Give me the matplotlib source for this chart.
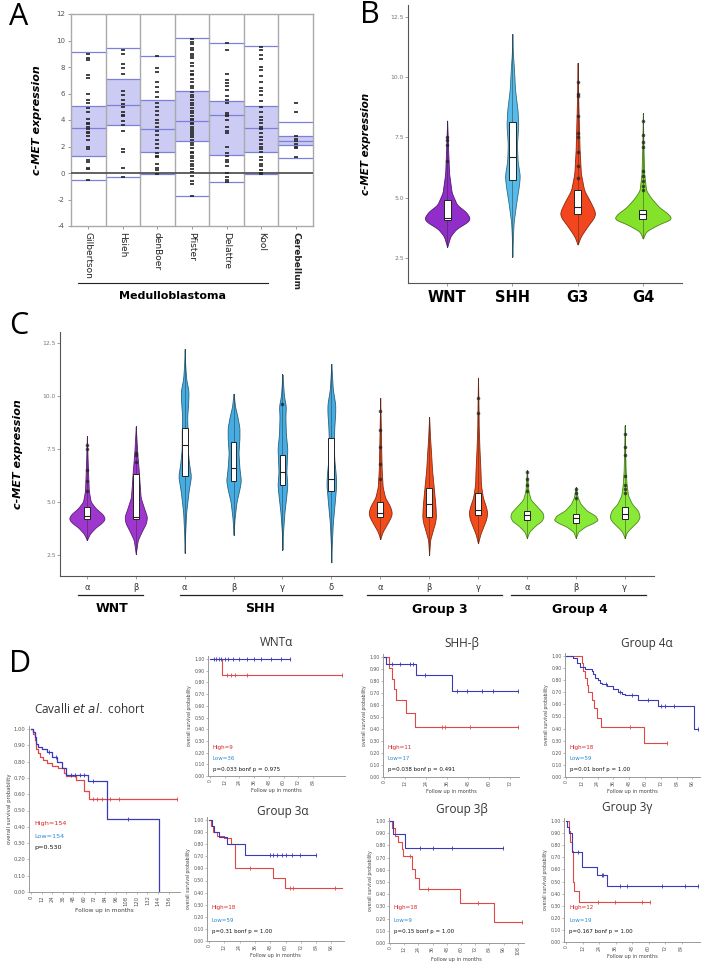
import numpy as np
import matplotlib
matplotlib.use('Agg')
import matplotlib.pyplot as plt
from matplotlib.lines import Line2D

# ---------------- DATA ----------------
# Panel A
a_cols = ['Gilbertson', 'Hsieh', 'denBoer', 'Pfister', 'Delattre', 'Kool', 'Cerebellum']
a_upper = [9.1, 9.4, 8.8, 10.2, 9.8, 9.6, 3.85]
a_q3 = [5.05, 7.1, 5.5, 6.2, 5.4, 5.05, 2.8]
a_med = [3.4, 5.1, 3.3, 3.9, 4.35, 3.4, 2.4]
a_q1 = [1.25, 3.65, 1.55, 2.45, 1.35, 1.6, 2.15]
a_lower = [-0.5, -0.3, -0.1, -1.75, -0.7, -0.1, 1.15]
a_pts_gil = [9.0, 8.7, 8.5, 7.4, 7.2, 6.0, 5.5, 5.3, 4.9, 4.6, 4.1, 3.8, 3.7, 3.5, 3.3, 3.1,
             3.0, 2.8, 2.5, 2.0, 1.8, 1.0, 0.8, 0.4, 0.3, -0.5]
a_pts_hsi = [9.3, 9.0, 8.2, 7.9, 7.5, 6.2, 5.9, 5.5, 5.2, 5.0, 4.6, 4.4, 4.3, 3.9, 3.6, 3.2,
             1.8, 1.6, 0.4, -0.3]
a_pts_den = [8.8, 7.9, 7.6, 6.9, 6.5, 6.1, 5.7, 5.3, 5.0, 4.7, 4.4, 4.0, 3.8, 3.5, 3.2, 2.9,
             2.5, 2.2, 1.9, 1.5, 1.3, 1.2, 0.7, 0.4, 0.2, -0.1]
a_pts_pfi = [10.1, 9.9, 9.7, 9.4, 9.3, 9.0, 8.8, 8.7, 8.3, 8.1, 7.7, 7.5, 7.4, 7.1, 6.9, 6.6,
             6.4, 6.1, 5.9, 5.7, 5.5, 5.3, 5.1, 4.9, 4.7, 4.5, 4.3, 4.1, 4.0, 3.8, 3.7, 3.5,
             3.3, 3.2, 3.0, 2.9, 2.7, 2.5, 2.3, 2.1, 1.9, 1.6, 1.5, 1.3, 1.1, 0.9, 0.7, 0.5,
             0.3, 0.1, -0.2, -0.6, -0.8, -1.75]
a_pts_del = [9.8, 9.3, 7.5, 7.0, 6.8, 6.6, 6.3, 5.8, 5.5, 5.3, 4.5, 4.4, 4.3, 4.0, 3.5, 3.2,
             3.0, 2.0, 1.5, 1.3, 1.0, 0.8, 0.5, 0.0, -0.3, -0.5, -0.7]
a_pts_koo = [9.5, 9.3, 8.9, 8.6, 8.0, 7.8, 7.3, 6.9, 6.4, 6.2, 5.9, 5.4, 5.0, 4.6, 4.2, 4.0,
             3.8, 3.5, 3.3, 3.0, 2.7, 2.5, 2.2, 2.0, 1.8, 1.6, 1.2, 1.0, 0.7, 0.5, 0.2, 0.0, -0.1]
a_pts_cer = [5.3, 4.6, 2.8, 2.6, 2.4, 2.2, 2.0, 1.9, 1.2]
a_pts = [a_pts_gil, a_pts_hsi, a_pts_den, a_pts_pfi, a_pts_del, a_pts_koo, a_pts_cer]
a_yticks = [-4, -2, 0, 2, 4, 6, 8, 10, 12]

# Panel B
b_groups = ['WNT', 'SHH', 'G3', 'G4']
b_colors = ['#8b22c6', '#4db8e8', '#f23c12', '#7fe11f']
b_prof_y = [
    [2.95, 3.4, 3.7, 4.0, 4.15, 4.4, 4.7, 5.2, 6.0, 7.0, 8.2],
    [2.55, 3.5, 4.0, 4.8, 5.5, 5.9, 6.5, 7.2, 8.0, 8.6, 9.5, 10.3, 11.0, 11.8],
    [3.05, 3.4, 3.8, 4.2, 4.4, 4.8, 5.3, 6.0, 7.0, 8.0, 9.0, 10.6],
    [3.3, 3.6, 3.9, 4.1, 4.3, 4.6, 5.0, 5.3, 6.0, 7.0, 8.5],
]
b_prof_w = [
    [0, 0.05, 0.14, 0.32, 0.35, 0.29, 0.15, 0.07, 0.03, 0.015, 0],
    [0, 0.01, 0.02, 0.06, 0.1, 0.115, 0.08, 0.07, 0.09, 0.08, 0.04, 0.025, 0.008, 0],
    [0, 0.05, 0.15, 0.26, 0.27, 0.2, 0.1, 0.05, 0.03, 0.02, 0.01, 0],
    [0, 0.05, 0.25, 0.44, 0.4, 0.25, 0.12, 0.05, 0.02, 0.01, 0],
]
b_q1 = [4.05, 5.75, 4.3, 4.1]
b_med = [4.15, 6.7, 4.6, 4.3]
b_q3 = [4.9, 8.15, 5.3, 4.5]
b_out = [
    [6.5, 7.2, 7.4, 7.5],
    [],
    [5.8, 6.3, 6.9, 7.5, 7.7, 8.4, 9.2, 9.3, 9.8],
    [5.3, 5.5, 5.7, 5.9, 6.1, 7.1, 7.3, 7.6, 8.2],
]
b_yticks = [2.5, 5.0, 7.5, 10.0, 12.5]

# Panel C
c_labels = ['α', 'β', 'α', 'β', 'γ', 'δ', 'α', 'β', 'γ', 'α', 'β', 'γ']
c_group = [0, 0, 1, 1, 1, 1, 2, 2, 2, 3, 3, 3]
c_group_names = ['WNT', 'SHH', 'Group 3', 'Group 4']
c_colors = ['#9a2ccc', '#3ca8e0', '#f0420f', '#82e82c']
c_prof_y = [
    [3.2, 3.5, 3.8, 4.0, 4.2, 4.4, 4.7, 5.0, 5.5, 6.0, 7.0, 8.1],
    [2.55, 3.2, 3.6, 4.0, 4.3, 4.7, 5.2, 5.8, 6.5, 7.3, 8.55],
    [2.6, 3.5, 4.5, 5.5, 6.2, 6.8, 7.5, 8.3, 9.0, 9.6, 10.2, 10.8, 11.5, 12.2],
    [3.45, 4.2, 5.0, 5.6, 6.0, 6.6, 7.3, 8.0, 8.5, 9.0, 9.5, 10.1],
    [2.75, 3.5, 4.5, 5.3, 5.8, 6.4, 7.0, 7.5, 8.2, 9.0, 9.5, 10.0, 11.0],
    [2.15, 3.0, 4.0, 5.0, 5.8, 6.3, 7.0, 7.8, 8.5, 9.2, 9.6, 10.3, 11.5],
    [3.25, 3.6, 4.0, 4.3, 4.5, 4.8, 5.2, 5.7, 6.5, 7.5, 8.5, 9.9],
    [2.5, 3.2, 3.7, 4.0, 4.3, 4.8, 5.3, 5.8, 6.5, 7.3, 8.0, 9.0],
    [3.05, 3.5, 3.9, 4.2, 4.5, 4.8, 5.2, 5.8, 6.5, 7.5, 8.5, 9.5, 10.85],
    [3.3, 3.6, 3.9, 4.1, 4.3, 4.5, 4.8, 5.1, 5.5, 6.0, 6.5],
    [3.3, 3.6, 3.85, 4.0, 4.15, 4.35, 4.6, 4.9, 5.2, 5.7],
    [3.3, 3.6, 3.9, 4.1, 4.3, 4.6, 4.9, 5.3, 5.8, 6.5, 7.5, 8.6],
]
c_prof_w = [
    [0, 0.06, 0.18, 0.3, 0.37, 0.33, 0.18, 0.08, 0.04, 0.03, 0.015, 0],
    [0, 0.04, 0.12, 0.21, 0.23, 0.17, 0.1, 0.08, 0.06, 0.03, 0],
    [0, 0.01, 0.03, 0.08, 0.13, 0.09, 0.06, 0.06, 0.05, 0.07, 0.08, 0.03, 0.01, 0],
    [0, 0.02, 0.06, 0.12, 0.15, 0.12, 0.1, 0.12, 0.12, 0.08, 0.03, 0],
    [0, 0.01, 0.04, 0.08, 0.1, 0.08, 0.09, 0.1, 0.07, 0.06, 0.07, 0.03, 0],
    [0, 0.01, 0.03, 0.07, 0.1, 0.09, 0.06, 0.05, 0.06, 0.08, 0.08, 0.03, 0],
    [0, 0.05, 0.15, 0.22, 0.24, 0.2, 0.1, 0.05, 0.03, 0.02, 0.012, 0],
    [0, 0.02, 0.08, 0.12, 0.14, 0.13, 0.11, 0.09, 0.06, 0.04, 0.02, 0],
    [0, 0.05, 0.12, 0.17, 0.19, 0.16, 0.1, 0.06, 0.05, 0.03, 0.015, 0.01, 0],
    [0, 0.05, 0.18, 0.3, 0.34, 0.32, 0.2, 0.08, 0.03, 0.015, 0],
    [0, 0.05, 0.2, 0.35, 0.45, 0.4, 0.22, 0.1, 0.04, 0],
    [0, 0.05, 0.18, 0.27, 0.31, 0.27, 0.15, 0.07, 0.04, 0.02, 0.01, 0],
]
c_q1 = [4.2, 4.2, 6.2, 6.0, 5.8, 5.5, 4.3, 4.3, 4.4, 4.15, 4.0, 4.2]
c_med = [4.35, 4.3, 7.7, 6.6, 6.4, 6.1, 4.5, 4.9, 4.6, 4.4, 4.25, 4.45]
c_q3 = [4.75, 6.3, 8.5, 7.8, 7.2, 8.0, 5.0, 5.65, 5.4, 4.57, 4.45, 4.75]
c_out = [
    [5.5, 6.0, 6.5, 7.5, 7.7],
    [6.9, 7.2, 7.3],
    [], [], [9.6], [],
    [6.1, 6.8, 7.6, 8.4, 9.3],
    [],
    [9.2, 9.9],
    [5.5, 5.8, 6.1, 6.4],
    [5.2, 5.4, 5.6],
    [5.4, 5.6, 5.8, 6.2, 7.2, 7.6, 8.2],
]

# Panel D (Kaplan-Meier)
km_titles = ['Cavalli', 'WNTα', 'SHH-β', 'Group 4α', 'Group 3α', 'Group 3β', 'Group 3γ']
km_high_t = [
    [0, 2, 4, 6, 8, 10, 14, 18, 24, 31, 37, 40, 51, 60, 66],
    [0, 10],
    [0, 3.0, 4.4, 5.7, 6.9, 12.6, 17.7],
    [0, 11.9, 13.2, 14.4, 15.7, 17.0, 19.5, 21.0, 23.3, 26.3, 59.2],
    [0, 1.5, 3, 6, 12, 17, 20.4, 50.4, 59.6],
    [0, 1.4, 4.2, 7.0, 9.9, 11.3, 18.3, 21.1, 24.8, 59, 87.9],
    [0, 2.2, 3.0, 4.1, 5.3, 6.0, 9.7],
]
km_high_s = [
    [1.0, 0.97, 0.93, 0.88, 0.85, 0.83, 0.81, 0.79, 0.77, 0.76, 0.73, 0.71, 0.69, 0.62, 0.57],
    [1.0, 0.86],
    [1.0, 0.91, 0.82, 0.73, 0.64, 0.53, 0.42],
    [1.0, 0.94, 0.88, 0.82, 0.76, 0.70, 0.64, 0.57, 0.49, 0.41, 0.28],
    [1.0, 0.95, 0.90, 0.87, 0.85, 0.80, 0.60, 0.52, 0.44],
    [1.0, 0.94, 0.88, 0.83, 0.77, 0.71, 0.61, 0.53, 0.44, 0.33, 0.17],
    [1.0, 0.92, 0.83, 0.75, 0.50, 0.42, 0.33],
]
km_high_end = [165, 108, 76.5, 76.5, 104, 111.5, 61]
km_high_cens = [
    [70, 75, 80, 90, 100, 165],
    [14, 17, 20, 30, 108],
    [33, 35, 49, 76.5],
    [48.5, 76.5],
    [32, 63.5, 66, 99],
    [17, 32, 74, 111.5],
    [23.5, 35.6, 55, 61],
]
km_low_t = [
    [0, 2, 4, 6, 8, 12, 18, 24, 30, 35, 40, 65, 86, 145],
    [0],
    [0, 1.1, 18.1, 39],
    [0, 5.6, 8.1, 10.6, 14.4, 19.5, 20.8, 22.0, 24.6, 25.8, 27.1, 30.9, 36.0, 39.7, 42.3,
     44.8, 55.0, 70.1, 97.2],
    [0, 2, 4, 8, 14, 28],
    [0, 2.8, 12.7],
    [0, 1.0, 2.5, 4.6, 11.9, 22.3, 29.6],
]
km_low_s = [
    [1.0, 0.98, 0.95, 0.91, 0.89, 0.88, 0.86, 0.83, 0.80, 0.76, 0.72, 0.68, 0.45, 0.0],
    [1.0],
    [1.0, 0.94, 0.85, 0.72],
    [1.0, 0.98, 0.94, 0.91, 0.89, 0.88, 0.85, 0.82, 0.80, 0.78, 0.77, 0.75, 0.73, 0.70, 0.69,
     0.68, 0.64, 0.59, 0.40],
    [1.0, 0.95, 0.90, 0.86, 0.80, 0.71],
    [1.0, 0.89, 0.78],
    [1.0, 0.95, 0.90, 0.74, 0.62, 0.55, 0.46],
]
km_low_end = [145, 65, 76.5, 100.5, 84, 95.5, 95.8]
km_low_cens = [
    [20, 28, 45, 50, 55, 60, 70, 110],
    [3, 5, 7, 9, 12, 15, 19, 24, 30, 36, 42, 50, 58, 65],
    [4.4, 9.1, 14.9, 16.5, 23.4, 41.5, 47.6, 56, 62, 76.5],
    [30, 41, 50, 62, 72, 75, 82, 100.5],
    [48, 50, 53, 57, 60, 65, 71, 84],
    [25, 36, 52, 95.5],
    [9, 26, 27, 39, 44, 70, 86.5, 95.8],
]
km_n_high = ['High=154', 'High=9', 'High=11', 'High=18', 'High=18', 'High=18', 'High=12']
km_n_low = ['Low=154', 'Low=36', 'Low=17', 'Low=59', 'Low=59', 'Low=9', 'Low=19']
km_p = ['p=0.530', 'p=0.033 bonf p = 0.975', 'p=0.038 bonf p = 0.491', 'p=0.01 bonf p = 1.00',
        'p=0.31 bonf p = 1.00', 'p=0.15 bonf p = 1.00', 'p=0.167 bonf p = 1.00']
km_xmax_tick = [156, 84, 72, 96, 96, 108, 84]
km_yticks = [0.0, 0.1, 0.2, 0.3, 0.4, 0.5, 0.6, 0.7, 0.8, 0.9, 1.0]

# ---------------- LAYOUT HELPERS ----------------
W, H = 708, 968
fig = plt.figure(figsize=(W / 100, H / 100), dpi=100)
fig.patch.set_facecolor('white')


def rect(l, t, r, b):
    return [l / W, 1 - b / H, (r - l) / W, (b - t) / H]


def fx(x):
    return x / W


def fy(y):
    return 1 - y / H


def ftext(x, y, s, **kw):
    fig.text(fx(x), fy(y), s, **kw)


def fline(x0, x1, y, **kw):
    fig.add_artist(Line2D([fx(x0), fx(x1)], [fy(y), fy(y)], transform=fig.transFigure, **kw))


def darker(c, f=0.6):
    rgb = np.array(matplotlib.colors.to_rgb(c))
    return tuple(rgb * f)


def violin(ax, x, ys, ws, color, q1, med, q3, outs, boxw):
    ys = np.asarray(ys, float)
    ws = np.asarray(ws, float)
    yy = np.linspace(ys[0], ys[-1], 300)
    ww = np.interp(yy, ys, ws)
    k = 11
    pad = np.pad(ww, k // 2, mode='edge')
    ww = np.convolve(pad, np.ones(k) / k, mode='valid')
    ww[0] = 0
    ww[-1] = 0
    ax.plot([x, x], [ys[0], ys[-1]], color='#444444', lw=0.7, zorder=1)
    ax.fill_betweenx(yy, x - ww, x + ww, facecolor=color, edgecolor=darker(color, 0.55),
                     lw=0.6, zorder=2, alpha=0.95)
    ax.plot([x, x], [ys[0], ys[-1]], color='#333333', lw=0.5, alpha=0.6, zorder=3)
    ax.add_patch(plt.Rectangle((x - boxw / 2, q1), boxw, q3 - q1, facecolor='white',
                               edgecolor='#222222', lw=0.7, zorder=4))
    ax.plot([x - boxw / 2, x + boxw / 2], [med, med], color='#222222', lw=0.8, zorder=5)
    if outs:
        ax.plot([x] * len(outs), outs, 'o', ms=2.6, color='#222222', alpha=0.75, zorder=6,
                markeredgewidth=0)


def style_violin_axes(ax, yticks):
    for s in ['top', 'right']:
        ax.spines[s].set_visible(False)
    for s in ['left', 'bottom']:
        ax.spines[s].set_color('#555555')
        ax.spines[s].set_linewidth(0.8)
    ax.set_yticks(yticks)
    ax.set_yticklabels(['%.1f' % v for v in yticks], fontsize=4.3, color='#777777')
    ax.tick_params(axis='y', length=2, width=0.5, color='#777777', pad=1)
    ax.tick_params(axis='x', length=2, width=0.5, color='#777777')


# ---------------- PANEL A ----------------
axA = fig.add_axes(rect(71, 14, 313, 226))
axA.set_xlim(0, 7)
axA.set_ylim(-4, 12)
fillc = '#cbcbf3'
linec = '#7c80da'
for i in range(7):
    axA.fill_between([i, i + 1], a_q1[i], a_q3[i], color=fillc, lw=0, zorder=1)
    for v in (a_upper[i], a_q3[i], a_med[i], a_q1[i], a_lower[i]):
        axA.plot([i, i + 1], [v, v], color=linec, lw=0.9, zorder=2)
    pts = a_pts[i]
    axA.plot([i + 0.5] * len(pts), pts, marker='_', ls='none', ms=2.5, mew=1.2,
             color='#222222', zorder=4)
for i in range(1, 7):
    axA.axvline(i, color='#aaaaaa', lw=1.0, zorder=3)
axA.axhline(0, color='#555555', lw=1.3, zorder=3)
for s in axA.spines.values():
    s.set_color('#aaaaaa')
    s.set_linewidth(1.0)
axA.set_yticks(a_yticks)
axA.set_yticklabels([str(v) for v in a_yticks], fontsize=5, color='#555555')
axA.tick_params(axis='y', length=2.5, width=0.6, color='#888888', pad=2)
axA.set_xticks(np.arange(7) + 0.5)
axA.set_xticklabels(a_cols, rotation=-90, fontsize=6.5, color='#222222')
for lab in axA.get_xticklabels():
    if lab.get_text() == 'Cerebellum':
        lab.set_fontweight('bold')
axA.tick_params(axis='x', length=2.5, width=0.6, color='#888888', pad=2)
axA.set_ylabel('c-MET expression', fontsize=8, fontweight='bold', fontstyle='italic',
               labelpad=10)
fline(78, 268, 283, color='#222222', lw=0.8)
ftext(172, 296, 'Medulloblastoma', ha='center', va='center', fontsize=8, fontweight='bold')
ftext(19, 17, 'A', ha='center', va='center', fontsize=22, family='Open Sans')

# ---------------- PANEL B ----------------
axB = fig.add_axes(rect(408, 5, 682, 283))
axB.set_xlim(-0.6, 3.6)
axB.set_ylim(1.45, 13.0)
for i in range(4):
    violin(axB, i, b_prof_y[i], b_prof_w[i], b_colors[i], b_q1[i], b_med[i], b_q3[i],
           b_out[i], 0.11)
style_violin_axes(axB, b_yticks)
axB.set_xticks(range(4))
axB.set_xticklabels([])
for i, g in enumerate(b_groups):
    ftext(447 + i * 65.3, 298, g, ha='center', va='center', fontsize=10.5, fontweight='bold')
axB.set_ylabel('c-MET expression', fontsize=7.5, fontweight='bold', fontstyle='italic',
               labelpad=14)
ftext(360, 15, 'B', ha='left', va='center', fontsize=22, family='Open Sans')

# ---------------- PANEL C ----------------
axC = fig.add_axes(rect(60, 332, 654, 576))
axC.set_xlim(-0.55, 11.6)
axC.set_ylim(1.51, 13.0)
for i in range(12):
    violin(axC, i, c_prof_y[i], c_prof_w[i], c_colors[c_group[i]], c_q1[i], c_med[i], c_q3[i],
           c_out[i], 0.12)
style_violin_axes(axC, b_yticks)
axC.set_xticks(range(12))
axC.set_xticklabels(c_labels, fontsize=6, color='#333333')
axC.tick_params(axis='x', pad=3)
axC.set_ylabel('c-MET expression', fontsize=8, fontweight='bold', fontstyle='italic',
               labelpad=14)
c_line_px = [(78, 143), (180, 342), (367, 502), (511, 646)]
c_name_px = [112, 260, 440, 580]
for (x0, x1), xc, name in zip(c_line_px, c_name_px, c_group_names):
    fline(x0, x1, 595, color='#222222', lw=0.9)
    ftext(xc, 609, name, ha='center', va='center', fontsize=9, fontweight='bold')
ftext(19, 326, 'C', ha='center', va='center', fontsize=22, family='Open Sans')

# ---------------- PANEL D ----------------
ftext(20, 664, 'D', ha='center', va='center', fontsize=22, family='Open Sans')

# axes geometry: (spine_left, px of t=0, px per month, y of 1.00, y of 0.00, right px)
km_geo = [
    (29, 31, 0.882, 729, 892, 180),
    (208, 210, 1.225, 659, 776, 345),
    (383, 384, 1.75, 657, 777, 519),
    (565, 566, 1.317, 656, 777, 700),
    (207, 209, 1.275, 820, 941, 344),
    (389, 390, 1.183, 821, 943, 524),
    (564, 566, 1.375, 821, 942, 700),
]
km_title_pos = [(90, 709), (276, 643), (462, 643), (647, 643), (283, 812), (462, 810), (627, 808)]
red = '#e04848'
blue = '#3a3ab8'

for k in range(7):
    sl, x0, ppm, y1, y0, rx = km_geo[k]
    ax = fig.add_axes(rect(sl, y1 - 3, rx, y0))
    ax.set_xlim((sl - x0) / ppm, (rx - x0) / ppm)
    ax.set_ylim(0, 1 + 3 / (y0 - y1))
    for s in ['top', 'right']:
        ax.spines[s].set_visible(False)
    for s in ['left', 'bottom']:
        ax.spines[s].set_color('#999999')
        ax.spines[s].set_linewidth(0.7)
    fs = 3.3 if k > 0 else 3.8
    ax.set_yticks(km_yticks)
    ax.set_yticklabels(['%.2f' % v for v in km_yticks], fontsize=fs, color='#555555')
    xt = list(range(0, km_xmax_tick[k] + 1, 12))
    ax.set_xticks(xt)
    ax.set_xticklabels([str(v) for v in xt], rotation=90, fontsize=fs, color='#555555')
    ax.tick_params(length=1.5, width=0.4, color='#888888', pad=1)

    for tt, ss, end, cens, col in [
        (km_high_t[k], km_high_s[k], km_high_end[k], km_high_cens[k], red),
        (km_low_t[k], km_low_s[k], km_low_end[k], km_low_cens[k], blue)]:
        t = list(tt) + [end]
        s = list(ss) + [ss[-1]]
        ax.step(t, s, where='post', color=col, lw=0.9 if k == 0 else 0.8)
        cs = []
        for c in cens:
            idx = max(j for j in range(len(tt)) if tt[j] <= c)
            cs.append(ss[idx])
        ax.plot(cens, cs, ls='none', marker='|', ms=2.2, mew=0.6, color=col)

    tx = sl + 5
    if k == 0:
        ty = [824, 836, 847]
        tfs = 4.6
    elif k < 4:
        ty = [747, 758, 769]
        tfs = 4.0
    else:
        ty = [908, 920, 932]
        tfs = 4.0
    ftext(tx, ty[0], km_n_high[k], color='#e02020', fontsize=tfs, va='center')
    ftext(tx, ty[1], km_n_low[k], color='#2a8ad0', fontsize=tfs, va='center')
    ftext(tx, ty[2], km_p[k], color='#111111', fontsize=tfs, va='center')

    ax.set_xlabel('Follow up in months', fontsize=4.2 if k == 0 else 3.6, color='#444444',
                  labelpad=1.5)
    ax.set_ylabel('overall survival probability', fontsize=3.8 if k == 0 else 3.3,
                  color='#444444', labelpad=1.5)

    px, py = km_title_pos[k]
    if k == 0:
        ftext(px, py, 'Cavalli $\\it{et\\ al.}$ cohort', ha='center', va='center',
              fontsize=8.5, color='#333333', family='Open Sans')
    else:
        ftext(px, py, km_titles[k], ha='center', va='center', fontsize=8.5,
              color='#333333', family='Open Sans')

fig.savefig('out.png', dpi=100)
